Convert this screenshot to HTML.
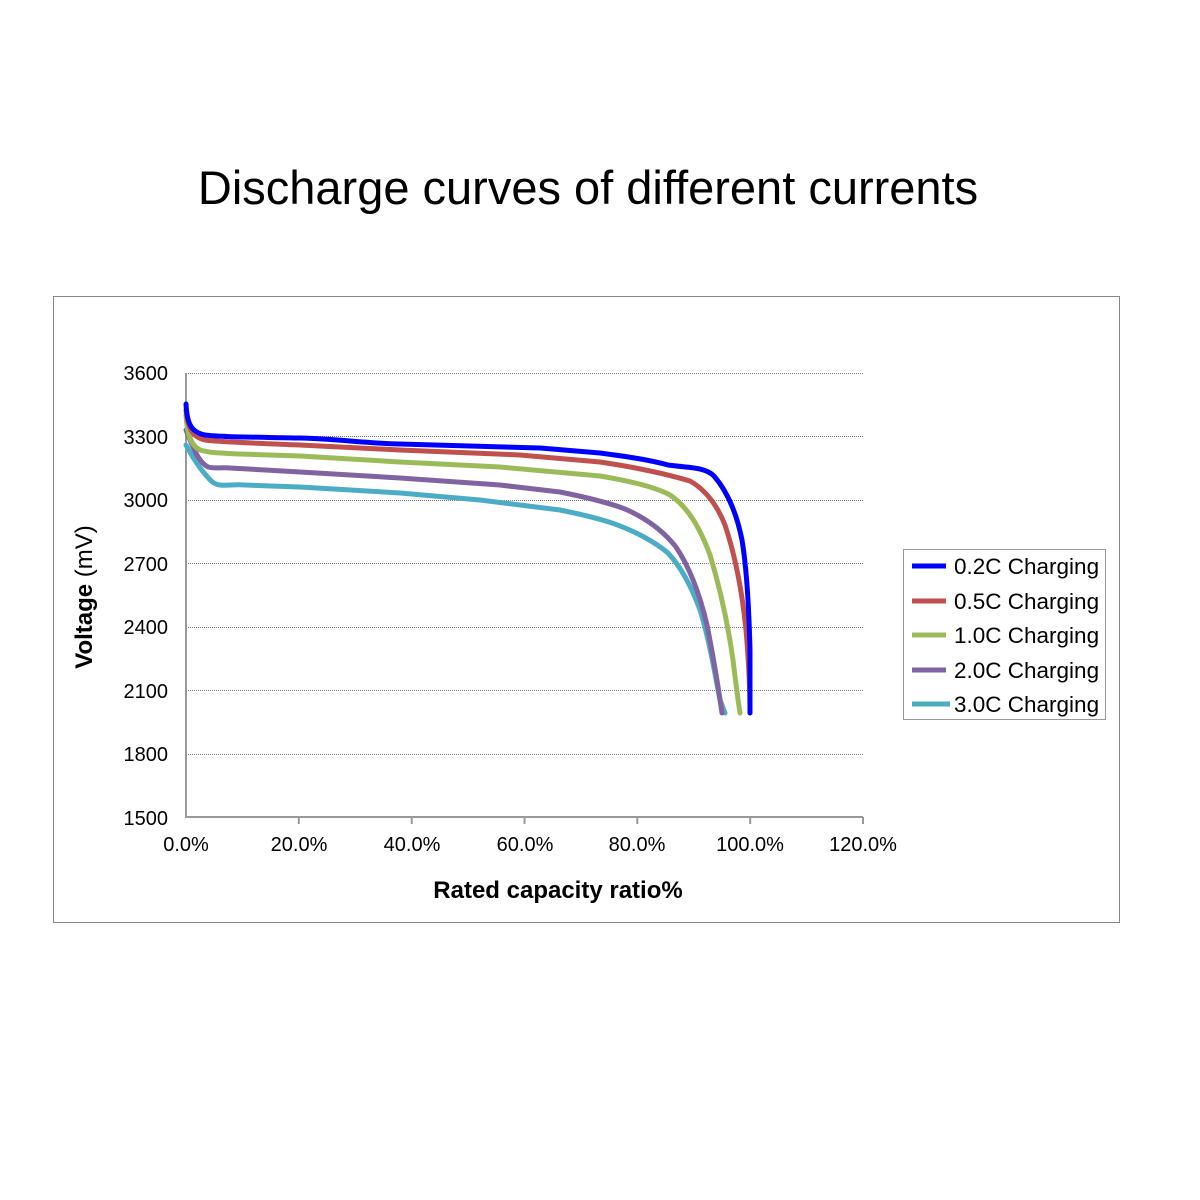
<!DOCTYPE html>
<html><head><meta charset="utf-8"><style>
html,body{margin:0;padding:0;background:#fff;}
svg{display:block;font-family:"Liberation Sans",Arial,sans-serif;}
</style></head><body>
<svg width="1200" height="1200" viewBox="0 0 1200 1200">
<rect width="1200" height="1200" fill="#fff"/>
<text x="588" y="204" font-size="47" text-anchor="middle" fill="#000">Discharge curves of different currents</text>
<rect x="53.5" y="296.5" width="1066" height="626" fill="none" stroke="#888" stroke-width="1"/>
<g stroke="#777" stroke-width="1" stroke-dasharray="1,1">
<line x1="186" x2="863" y1="373.5" y2="373.5"/>
<line x1="186" x2="863" y1="436.5" y2="436.5"/>
<line x1="186" x2="863" y1="500.5" y2="500.5"/>
<line x1="186" x2="863" y1="563.5" y2="563.5"/>
<line x1="186" x2="863" y1="627.5" y2="627.5"/>
<line x1="186" x2="863" y1="690.5" y2="690.5"/>
<line x1="186" x2="863" y1="754.5" y2="754.5"/>
</g>
<g stroke="#999" stroke-width="2">
<line x1="186" y1="373" x2="186" y2="818"/>
<line x1="186" y1="817" x2="863" y2="817"/>
<line x1="298.8" y1="817" x2="298.8" y2="824"/>
<line x1="411.7" y1="817" x2="411.7" y2="824"/>
<line x1="524.5" y1="817" x2="524.5" y2="824"/>
<line x1="637.3" y1="817" x2="637.3" y2="824"/>
<line x1="750.2" y1="817" x2="750.2" y2="824"/>
<line x1="863" y1="817" x2="863" y2="824"/>
</g>
<g font-size="20" text-anchor="end" fill="#000">
<text x="168" y="380">3600</text><text x="168" y="444">3300</text><text x="168" y="507">3000</text>
<text x="168" y="571">2700</text><text x="168" y="634">2400</text><text x="168" y="698">2100</text>
<text x="168" y="761">1800</text><text x="168" y="825">1500</text>
</g>
<g font-size="20" text-anchor="middle" fill="#000">
<text x="186" y="851">0.0%</text><text x="299" y="851">20.0%</text><text x="412" y="851">40.0%</text>
<text x="525" y="851">60.0%</text><text x="637" y="851">80.0%</text><text x="750" y="851">100.0%</text>
<text x="863" y="851">120.0%</text>
</g>
<text x="558" y="898" font-size="24" font-weight="bold" text-anchor="middle">Rated capacity ratio%</text>
<text transform="translate(92,597) rotate(-90)" font-size="24" text-anchor="middle"><tspan font-weight="bold">Voltage</tspan> (mV)</text>
<g fill="none" stroke-width="5" stroke-linejoin="round" stroke-linecap="round">
<path stroke="#4bacc6" d="M186,445 C192,456 198,466 205,474 C210,480 213,484 220,485 C228,486 234,484 245,485 L300,487 L400,493 L480,500 L560,510 C585,515 600,519 612,523 C635,531 655,542 668,553 C682,568 692,588 700,610 C708,635 714,668 720,700 L725,713"/>
<path stroke="#8064a2" d="M186,430 C192,445 198,462 208,467 C215,469 222,467 230,468 L300,472 L400,478 L500,485 L560,492 C590,498 612,504 625,509 C648,519 665,533 676,547 C690,568 700,595 707,625 C713,655 718,685 722,713"/>
<path stroke="#9bbb59" d="M186,415 C187,432 190,445 200,450 C210,453 220,453 240,454 L300,456 L400,462 L500,467 L600,476 C630,481 655,487 670,495 C688,507 700,528 710,555 C720,588 728,625 733,660 C736,685 738,700 740,713"/>
<path stroke="#c0504d" d="M186,410 C188,428 192,437 205,440 C220,442 250,443 300,445 L400,450 L520,455 L600,462 C640,468 670,475 690,481 C706,490 717,505 725,525 C735,555 742,590 746,630 C749,665 750,690 750,713"/>
<path stroke="#0000ff" d="M186,404 C187,422 190,432 205,435 C220,437 250,437 300,438 C340,439 360,443 400,444 L540,448 L600,453 C630,457 650,460 668,465 C690,468 705,467 714,476 C726,490 736,510 742,540 C747,570 749,610 750,650 L750,713"/>
</g>
<rect x="903.5" y="549.5" width="202" height="170" fill="#fff" stroke="#999" stroke-width="1"/>
<g stroke-width="5">
<line x1="912" x2="946" y1="566" y2="566" stroke="#0000ff"/>
<line x1="912" x2="946" y1="601" y2="601" stroke="#c0504d"/>
<line x1="912" x2="946" y1="635" y2="635" stroke="#9bbb59"/>
<line x1="912" x2="946" y1="670" y2="670" stroke="#8064a2"/>
<line x1="912" x2="950" y1="704" y2="704" stroke="#4bacc6"/>
</g>
<g font-size="22.5" fill="#000">
<text x="954" y="574">0.2C Charging</text>
<text x="954" y="609">0.5C Charging</text>
<text x="954" y="643">1.0C Charging</text>
<text x="954" y="678">2.0C Charging</text>
<text x="954" y="712">3.0C Charging</text>
</g>
</svg>
</body></html>
